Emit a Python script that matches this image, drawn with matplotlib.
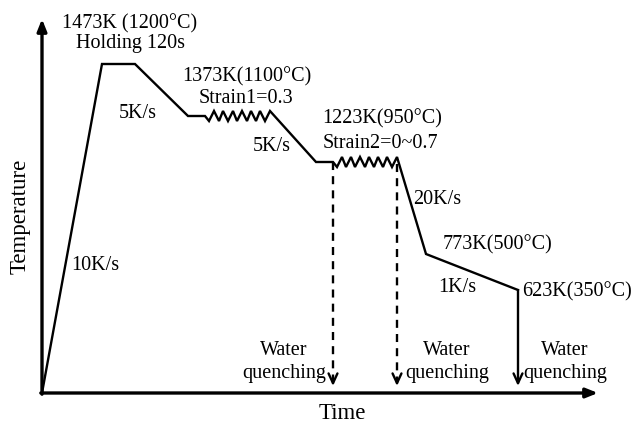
import matplotlib.pyplot as plt

# schematic thermal path (time units / temperature units)
path_time = [0, 60, 93, 146, 163,
             167, 172, 177, 181, 186, 191, 195, 200, 205, 209, 214, 218, 223, 228,
             274, 291,
             295, 300, 304, 309, 313, 318, 323, 327, 332, 336, 341, 345, 350, 355,
             384, 476]
path_temp = [0, 329, 329, 277, 277,
             272, 282, 272, 282, 272, 282, 272, 282, 272, 282, 272, 282, 272, 282,
             231, 231,
             226, 236, 226, 236, 226, 236, 226, 236, 226, 236, 226, 236, 226, 236,
             139, 103]

# water quenching: start of strain2, end of strain2, end of slow cooling
quench_time = [291, 355, 476]
quench_from = [231, 229, 103]
quench_to = 7
quench_style = ['--', '--', '-']

rate_labels = ['10K/s', '5K/s', '5K/s', '20K/s', '1K/s']
rate_pos = [(53, 123), (96, 275), (230, 242), (395, 189), (415, 101)]

plt.rcParams['font.family'] = ['Liberation Serif', 'DejaVu Serif']

fig = plt.figure(figsize=(6.33, 4.24), dpi=100)
ax = fig.add_axes([0, 0, 1, 1])
ax.set_xlim(-42, 591)
ax.set_ylim(-31, 393)
ax.axis('off')

fs = 14.5

# axes arrows
ax.annotate('', xy=(556, 0), xytext=(-1.2, 0),
            arrowprops=dict(arrowstyle='-|>,head_length=0.7,head_width=0.28',
                            mutation_scale=10, lw=2.4, color='black',
                            shrinkA=0, shrinkB=0))
ax.annotate('', xy=(0, 374), xytext=(0, -1.2),
            arrowprops=dict(arrowstyle='-|>,head_length=0.7,head_width=0.28',
                            mutation_scale=10, lw=2.4, color='black',
                            shrinkA=0, shrinkB=0))

ax.plot(path_time, path_temp, color='black', lw=1.7, solid_joinstyle='miter')

for t, y0, ls in zip(quench_time, quench_from, quench_style):
    if ls == '--':
        ax.plot([t, t], [y0, quench_to + 4], color='black', lw=1.7,
                dashes=(3.4, 2.6))
        ax.annotate('', xy=(t, quench_to), xytext=(t, quench_to + 6),
                    arrowprops=dict(arrowstyle='->,head_length=0.7,head_width=0.32',
                                    mutation_scale=10, lw=1.7, color='black',
                                    shrinkA=0, shrinkB=0))
    else:
        ax.annotate('', xy=(t, quench_to), xytext=(t, y0),
                    arrowprops=dict(arrowstyle='->,head_length=0.7,head_width=0.32',
                                    mutation_scale=10, lw=1.7, color='black',
                                    shrinkA=0, shrinkB=0))

# temperature / strain annotations
ax.text(88, 365, '1473K (1200°C)', fontsize=fs, ha='center', va='baseline')
ax.text(88, 345, 'Holding 120s', fontsize=fs, ha='center', va='baseline')
ax.text(205, 312, '1373K(1100°C)', fontsize=fs, ha='center', va='baseline')
ax.text(204, 290, 'Strain1=0.3', fontsize=fs, ha='center', va='baseline')
ax.text(340, 270, '1223K(950°C)', fontsize=fs, ha='center', va='baseline')
ax.text(338, 245, 'Strain2=0~0.7', fontsize=fs, ha='center', va='baseline')
ax.text(456, 144, '773K(500°C)', fontsize=fs, ha='center', va='baseline')
ax.text(480, 97, '623K(350°C)', fontsize=fs, ha='left', va='baseline')

for lab, (x, y) in zip(rate_labels, rate_pos):
    ax.text(x, y, lab, fontsize=fs, ha='center', va='baseline')

for x in [242, 405, 523]:
    ax.text(x, 38, 'Water', fontsize=fs, ha='center', va='baseline')
    ax.text(x, 15, 'quenching', fontsize=fs, ha='center', va='baseline')

ax.text(300, -26, 'Time', fontsize=16.5, ha='center', va='baseline')
ax.text(-22, 177, 'Temperature', fontsize=16.5, ha='center', va='center',
        rotation=90)

fig.savefig('out.png', dpi=100)
